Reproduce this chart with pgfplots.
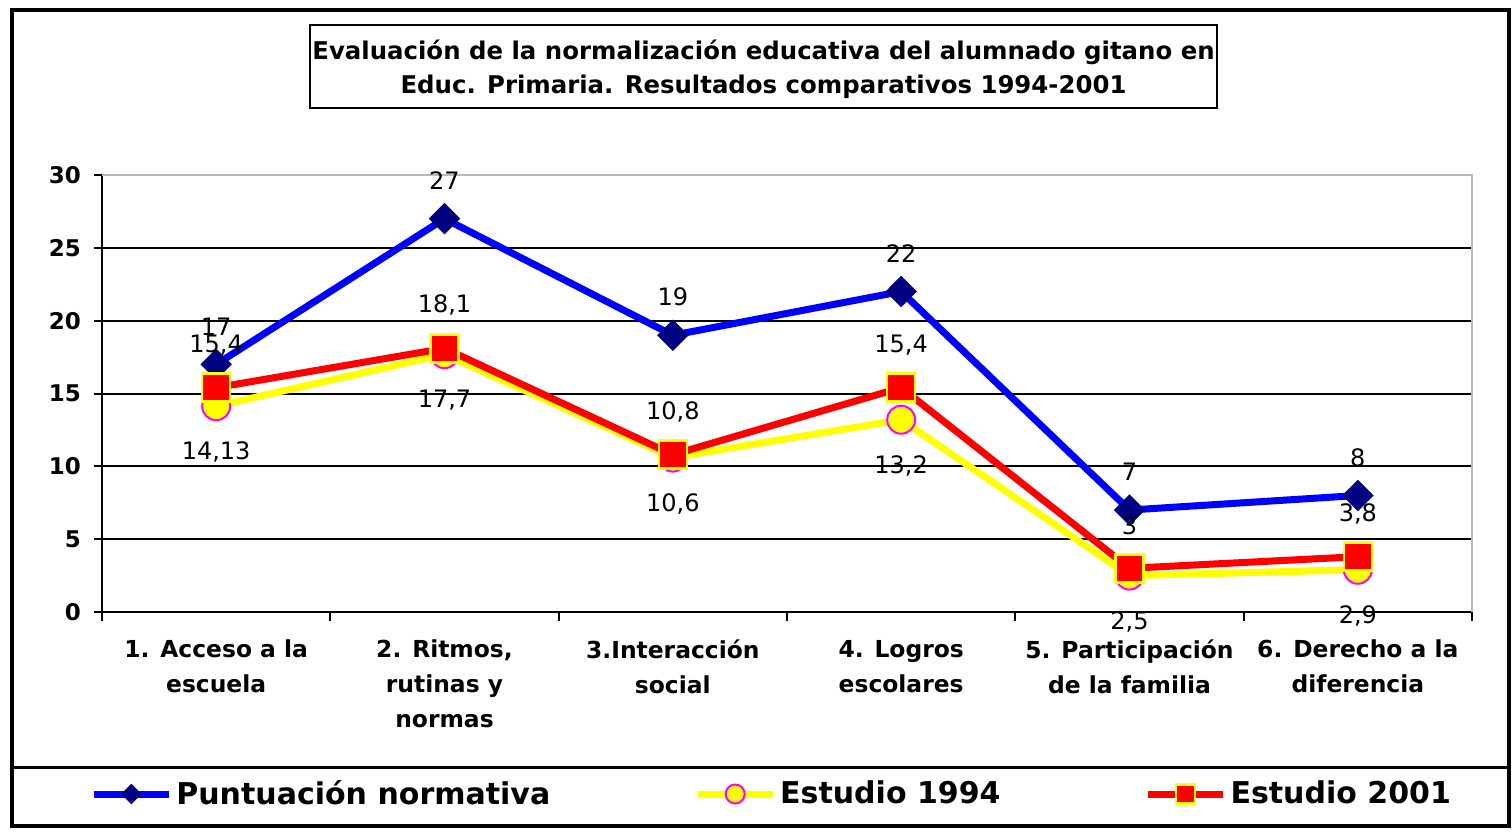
\documentclass[border=0pt]{standalone}
\usepackage{pgfplots}
\pgfplotsset{compat=1.18}
\usepackage{fontspec}
\setmainfont{DejaVu Sans}
\definecolor{cblue}{RGB}{0,0,255}
\definecolor{cnavy}{RGB}{0,0,128}
\definecolor{cyellow}{RGB}{255,255,0}
\definecolor{cmag}{RGB}{255,0,255}
\definecolor{cred}{RGB}{255,0,0}
\begin{document}
\begin{tikzpicture}
\path[use as bounding box] (0,0) rectangle (756pt,-417pt);
\fill[white] (0,0) rectangle (756pt,-417pt);
\draw[line width=2pt] (6pt,-5pt) rectangle (754.5pt,-413pt);
\draw[line width=1.5pt] (6pt,-383.5pt) -- (754.5pt,-383.5pt);
\draw[line width=1pt] (155pt,-12.5pt) rectangle (608.5pt,-54pt);
\node[align=center, font=\bfseries\fontsize{12.2}{17}\selectfont] at (381.75pt,-34.5pt) {Evaluación de la normalización educativa del alumnado gitano en\\Educ. Primaria. Resultados comparativos 1994-2001};
\begin{axis}[
  at={(51pt,-306pt)}, anchor=south west,
  scale only axis, width=685pt, height=218.5pt,
  xmin=-0.5, xmax=5.5, ymin=0, ymax=30,
  ytick={0,5,...,30},
  xtick={0,...,5},
  xticklabels={{1. Acceso a la\\escuela},{2. Ritmos,\\rutinas y\\normas},{3.Interacción\\social},{4. Logros\\escolares},{5. Participación\\de la familia},{6. Derecho a la\\diferencia}},
  minor xtick={-0.5,0.5,...,5.5},
  axis x line*=bottom, axis y line*=left,
  axis line style={-, line width=1pt, black},
  tick align=outside,
  major tick length=4pt, minor tick length=4.5pt,
  tick style={black, line width=1pt},
  major x tick style={draw=none},
  ymajorgrids, major grid style={black, line width=1pt},
  /pgf/number format/assume math mode=true,
  yticklabel style={font=\bfseries\fontsize{11.5}{14}\selectfont, xshift=-3pt},
  xticklabel style={font=\bfseries\fontsize{11.7}{17.5}\selectfont, align=center, yshift=-6.5pt},
  clip=false,
  point meta=explicit symbolic,
  nodes near coords,
  every node near coord/.append style={font=\fontsize{12}{14}\selectfont, anchor=center, text=black},
  legend columns=3,
  legend style={draw=none, fill=none, at={(-0.00876,-0.4165)}, anchor=west, inner sep=0pt,
    font=\bfseries\fontsize{15}{18}\selectfont,
    /tikz/every even column/.append style={column sep=70pt},
    /tikz/every odd column/.append style={column sep=0pt}},
  legend image code/.code={\draw[mark repeat=2, mark phase=2, #1, mark size=4.75pt] plot coordinates {(0pt,0pt) (18.75pt,0pt) (37.5pt,0pt)};},
]
\addplot[color=cblue, line width=3.5pt, mark=diamond*, mark size=7.5pt,
  mark options={solid, fill=cnavy, draw=cnavy, line width=0.5pt, xscale=1.333},
  every node near coord/.append style={yshift=19pt}]
  coordinates {(0,17)[17] (1,27)[27] (2,19)[19] (3,22)[22] (4,7)[7] (5,8)[8]};
\addlegendentry{Puntuación normativa}
\addplot[color=cyellow, line width=3.5pt, mark=*, mark size=7pt,
  mark options={solid, fill=cyellow, draw=cmag, line width=1pt},
  every node near coord/.append style={yshift=-23pt}]
  coordinates {(0,14.13)[{14,13}] (1,17.7)[{17,7}] (2,10.6)[{10,6}] (3,13.2)[{13,2}] (4,2.5)[{2,5}] (5,2.9)[{2,9}]};
\addlegendentry{Estudio 1994}
\addplot[color=cred, line width=3.5pt, mark=square*, mark size=7pt,
  mark options={solid, fill=cred, draw=cyellow, line width=1.2pt},
  every node near coord/.append style={yshift=21.5pt}]
  coordinates {(0,15.4)[{15,4}] (1,18.1)[{18,1}] (2,10.8)[{10,8}] (3,15.4)[{15,4}] (4,3)[3] (5,3.8)[{3,8}]};
\addlegendentry{Estudio 2001}
\draw[gray!55, line width=1pt] (rel axis cs:0,1) -- (rel axis cs:1,1) -- (rel axis cs:1,0);
\end{axis}
\end{tikzpicture}
\end{document}
